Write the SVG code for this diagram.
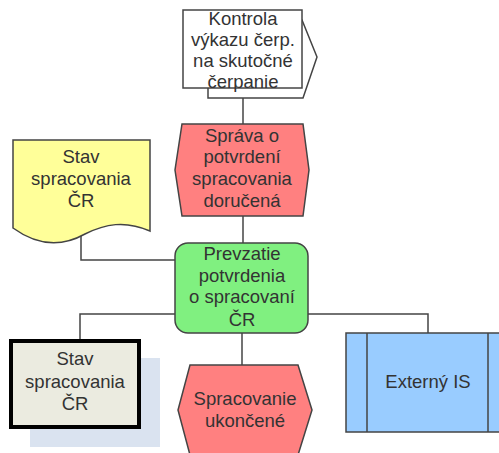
<svg xmlns="http://www.w3.org/2000/svg" width="499" height="453" viewBox="0 0 499 453">
<style>
.t{font-family:"Liberation Sans",Arial,sans-serif;font-size:18.5px;fill:#333;text-anchor:middle}
.c{fill:none;stroke:#444;stroke-width:1.5}
.s{stroke:#444;stroke-width:1.5}
</style>
<rect width="499" height="453" fill="#fff"/>
<g id="connectors">
<path class="c" d="M243,98 V124"/>
<path class="c" d="M243,216 V243"/>
<path class="c" d="M81,230 V260 H176"/>
<path class="c" d="M176,314 H80 V340"/>
<path class="c" d="M308,314 H428 V333"/>
<path class="c" d="M242,333 V365"/>
</g>
<g id="n_kontrola">
<path d="M208,20 H302 L317,57 L303,98 H208 Z" fill="#fff" class="s"/>
<rect x="183" y="10" width="119" height="78" fill="#fff" class="s"/>
<text class="t" x="243" y="25">Kontrola</text>
<text class="t" x="243" y="46">výkazu čerp.</text>
<text class="t" x="243" y="67">na skutočné</text>
<text class="t" x="243" y="88">čerpanie</text>
</g>
<g id="n_sprava">
<path d="M182,124 H303 L309,170 L303,216 H182 L175,170 Z" fill="#ff8080" class="s"/>
<text class="t" x="242" y="142">Správa o</text>
<text class="t" x="242" y="163">potvrdení</text>
<text class="t" x="242" y="185">spracovania</text>
<text class="t" x="242" y="207">doručená</text>
</g>
<g id="n_stav_doc">
<path d="M13,140 H150 V231 C125,220 105,224 85,234 C60,248 35,244 13,228 Z" fill="#ffff99" class="s"/>
<text class="t" x="81" y="163">Stav</text>
<text class="t" x="81" y="185">spracovania</text>
<text class="t" x="81" y="207">ČR</text>
</g>
<g id="n_prevzatie">
<rect x="175" y="243" width="133" height="90" rx="13" fill="#80f080" class="s"/>
<text class="t" x="242" y="260">Prevzatie</text>
<text class="t" x="242" y="282">potvrdenia</text>
<text class="t" x="242" y="303">o spracovaní</text>
<text class="t" x="242" y="326">ČR</text>
</g>
<g id="n_stav_box">
<rect x="30" y="358" width="130" height="89" fill="#dae3f0"/>
<rect x="11" y="341" width="128" height="86" fill="#ebebe0" stroke="#000" stroke-width="4"/>
<text class="t" x="75" y="365">Stav</text>
<text class="t" x="75" y="388">spracovania</text>
<text class="t" x="75" y="410">ČR</text>
</g>
<g id="n_spracovanie">
<path d="M190,365 H298 L312,410 L298,455 H190 L178,410 Z" fill="#ff8080" class="s"/>
<text class="t" x="245" y="405">Spracovanie</text>
<text class="t" x="245" y="427">ukončené</text>
</g>
<g id="n_externy">
<rect x="346" y="333" width="160" height="99" fill="#99ccff" class="s"/>
<path class="c" d="M367,333 V432 M488,333 V432"/>
<text class="t" x="428" y="388">Externý IS</text>
</g>
</svg>
